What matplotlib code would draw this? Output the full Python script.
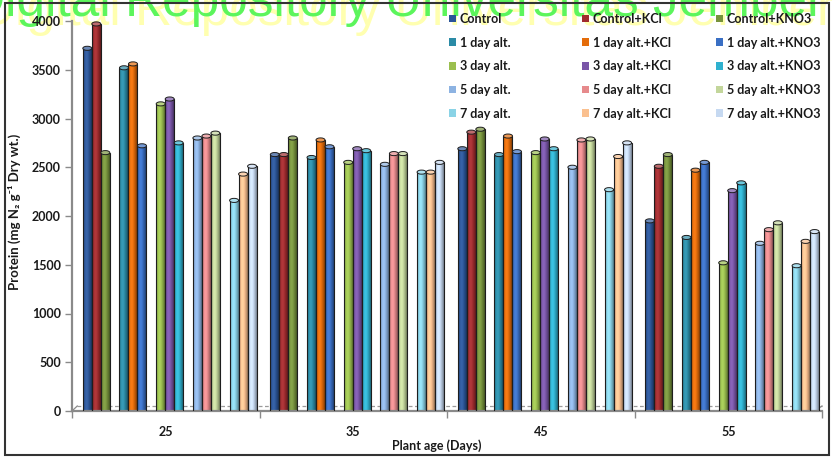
import numpy as np
from matplotlib import pyplot, colors
from matplotlib.patches import Ellipse, Patch, Rectangle

FONT = ["Lato", "DejaVu Sans"]
pyplot.rcParams["font.family"] = FONT
pyplot.rcParams["font.weight"] = "bold"

ages = ["25", "35", "45", "55"]

# protein content per treatment, one value per plant age
control = [3720, 2630, 2690, 1950]
control_kcl = [3970, 2630, 2860, 2510]
control_kno3 = [2650, 2800, 2890, 2630]
alt1 = [3520, 2600, 2630, 1780]
alt1_kcl = [3560, 2780, 2820, 2470]
alt1_kno3 = [2720, 2710, 2660, 2550]
alt3 = [3150, 2550, 2650, 1520]
alt3_kcl = [3200, 2690, 2790, 2260]
alt3_kno3 = [2750, 2670, 2690, 2340]
alt5 = [2800, 2530, 2500, 1720]
alt5_kcl = [2820, 2640, 2780, 1860]
alt5_kno3 = [2850, 2640, 2790, 1930]
alt7 = [2160, 2450, 2270, 1490]
alt7_kcl = [2430, 2450, 2610, 1740]
alt7_kno3 = [2510, 2550, 2750, 1840]

series = [control, control_kcl, control_kno3,
          alt1, alt1_kcl, alt1_kno3,
          alt3, alt3_kcl, alt3_kno3,
          alt5, alt5_kcl, alt5_kno3,
          alt7, alt7_kcl, alt7_kno3]

labels = ["Control", "Control+KCl", "Control+KNO3",
          "1 day alt.", "1 day alt.+KCl", "1 day alt.+KNO3",
          "3 day alt.", "3 day alt.+KCl", "3 day alt.+KNO3",
          "5 day alt.", "5 day alt.+KCl", "5 day alt.+KNO3",
          "7 day alt.", "7 day alt.+KCl", "7 day alt.+KNO3"]

bar_colors = ["#2b5597", "#a02b2e", "#77933c",
              "#2b8ba6", "#e46c0a", "#3a6fc4",
              "#9bbf4f", "#7a56a8", "#2fb1cf",
              "#8db3e2", "#e68a8c", "#c3d69b",
              "#8ad3e6", "#fac08f", "#c6d9f1"]

EDGE = "#1e1e1e"
AXIS_GREY = "#8a8a8a"
TEXT = "#1a1a1a"


def cylinder_shading(base, n=32):
    """
    :param base: str
        Base colour of the bar
    :return: np.array
        1 x n x 3 image, dark on the sides and light in the middle
    """

    rgb = np.array(colors.to_rgb(base))
    t = np.linspace(0, 1, n)
    bright = np.cos(np.pi * (t - 0.4) / 1.2)
    img = rgb[None, :] * (0.6 + 0.45 * bright)[:, None]
    img += 0.15 * np.clip(bright - 0.75, 0, 1)[:, None]
    return np.clip(img, 0, 1)[None, :, :]


def draw_cylinders(ax, x, heights, color, width):
    """
    :return: void
        draws one series as shaded bars with an elliptic cap
    """

    bars = ax.bar(x, heights, width=width, facecolor="none", edgecolor=EDGE,
                  linewidth=0.8, zorder=3)
    img = cylinder_shading(color)
    cap_color = np.clip(0.7 * np.array(colors.to_rgb(color)) + 0.3, 0, 1)
    for bar in bars:
        left, h = bar.get_x(), bar.get_height()
        im = ax.imshow(img, extent=(left, left + width, 0, h), aspect="auto",
                       interpolation="bilinear", zorder=2)
        im.set_clip_path(bar)
        ax.add_patch(Ellipse((left + width / 2, h), width, 42, facecolor=cap_color,
                             edgecolor=EDGE, linewidth=0.7, zorder=3.5))


fig = pyplot.figure(figsize=(8.32, 4.58), dpi=100)
ax = fig.add_axes([72 / 832, 1 - 411 / 458, 750 / 832, 390 / 458])
ax.patch.set_facecolor("none")  # let the watermark show behind the plot

bar_width = 0.048
cluster_pitch = 0.1957
groups = np.arange(len(ages))
for s, values in enumerate(series):
    cluster, k = divmod(s, 3)
    x = groups + (cluster - 2) * cluster_pitch + (k - 1) * bar_width + 0.021
    draw_cylinders(ax, x, values, bar_colors[s], bar_width)

# floor of the 3d box
floor = 5 / 390
ax.plot([0.007, 1.0], [floor, floor], transform=ax.transAxes, color="#9a9a9a",
        linestyle=(0, (3, 2)), linewidth=0.9, zorder=1, clip_on=False)
ax.plot([0, 0.007], [0, floor], transform=ax.transAxes, color=AXIS_GREY,
        linewidth=0.9, zorder=1, clip_on=False)
ax.plot([0.99, 1.0], [0, floor], transform=ax.transAxes, color=AXIS_GREY,
        linewidth=0.9, zorder=1, clip_on=False)

ax.set_xlim(-0.5, len(ages) - 0.5)
ax.set_ylim(0, 4000)
ax.set_yticks(np.arange(0, 4001, 500))
ax.set_xticks(np.arange(-0.5, len(ages), 1.0))
ax.set_xticklabels([])
ax.set_xticks(groups, minor=True)
ax.set_xticklabels(ages, minor=True, fontweight="bold")
ax.tick_params(axis="x", which="major", length=5, width=1, color=AXIS_GREY)
ax.tick_params(axis="x", which="minor", length=0, pad=11, labelsize=9, labelcolor=TEXT)
ax.tick_params(axis="y", length=5, width=1, color=AXIS_GREY, pad=3, labelsize=9,
               labelcolor=TEXT)

for side in ["top", "right"]:
    ax.spines[side].set_visible(False)
for side in ["left", "bottom"]:
    ax.spines[side].set_color(AXIS_GREY)
    ax.spines[side].set_linewidth(1.6)

ax.set_xlabel("Plant age (Days)", fontsize=9, fontweight="bold", va="center", color=TEXT)
ax.xaxis.set_label_coords(0.487, -35 / 390)
ax.set_ylabel("Protein (mg N\u2082 g\u207b\u00b9 Dry wt.)", fontsize=9.5, fontweight="bold",
              va="center", color=TEXT)
ax.yaxis.set_label_coords(-58 / 750, 0.51)

# three legend columns, filled row by row
legend_x = [449, 582, 716]
for c in range(3):
    idx = range(c, len(series), 3)
    handles = [Patch(facecolor=bar_colors[i], edgecolor="none") for i in idx]
    leg = fig.legend(handles, [labels[i] for i in idx], loc="upper left",
                     bbox_to_anchor=(legend_x[c] / 832, 1 - 13 / 458), frameon=False,
                     borderpad=0, borderaxespad=0, handlelength=0.56, handleheight=0.56,
                     handletextpad=0.3, labelspacing=0.93, labelcolor=TEXT,
                     prop={"family": FONT, "weight": "bold", "size": 9})
    leg.set_zorder(6)

fig.add_artist(Rectangle((5 / 832, 3 / 458), 824 / 832, 452 / 458, transform=fig.transFigure,
                         fill=False, edgecolor="#333333", linewidth=1.5))

# repository watermark with its pale shadow, kept under the axes and legend
mark = "Digital Repository Universitas Jember"
fig.text(-22 / 832, 1 - 25 / 458, mark, fontsize=37, family="Liberation Sans",
         weight="normal", color="#ffffb0", va="baseline", zorder=-2)
fig.text(-32 / 832, 1 - 16 / 458, mark, fontsize=37, family="Liberation Sans",
         weight="normal", color="#5cf55c", va="baseline", zorder=-1)

pyplot.savefig("out.png", dpi=100)
